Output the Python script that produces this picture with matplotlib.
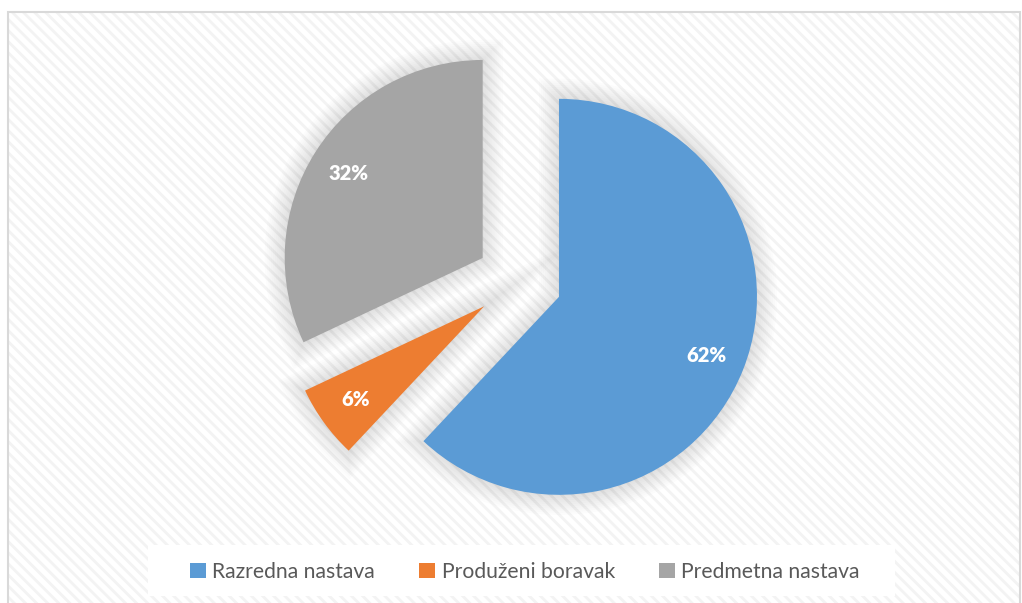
import matplotlib
matplotlib.use("Agg")
import matplotlib.pyplot as plt
from matplotlib.patches import Rectangle, Wedge

plt.rcParams['font.family'] = ['Lato', 'DejaVu Sans']
plt.rcParams['hatch.linewidth'] = 2.0

# data
labels = ['Razredna nastava', 'Produženi boravak', 'Predmetna nastava']
shares = [62, 6, 32]
colors = ['#5b9bd5', '#ed7d31', '#a5a5a5']

W, H = 1022, 603
fig = plt.figure(figsize=(W / 100, H / 100), dpi=100)
fig.patch.set_facecolor('white')

# striped chart area with light border
bg = Rectangle((8 / W, 0), (1020 - 8) / W, 1 - 12 / H, transform=fig.transFigure,
               facecolor='white', edgecolor='#f3f3f3', hatch='\\\\\\', linewidth=0, zorder=-2)
fig.patches.append(bg)
frame = Rectangle((8 / W, -0.01), (1020 - 8) / W, 1.01 - 12 / H, transform=fig.transFigure,
                  facecolor='none', edgecolor='#d9d9d9', linewidth=1.5, zorder=-1)
fig.patches.append(frame)

ax = fig.add_axes([0, 0, 1, 1])
ax.set_facecolor('none')
cx, cy = 519, H - 281
wedges, texts, autotexts = ax.pie(
    shares, colors=colors, startangle=90, counterclock=False,
    center=(cx, cy), radius=198, explode=[43, 43, 43],
    autopct='%1.0f%%', pctdistance=0.8,
    textprops=dict(color='white', fontsize=14.5, fontweight='heavy'))

# soft shadow around slices
for w in wedges:
    for lw in range(2, 30, 3):
        ax.add_patch(Wedge(w.center, w.r, w.theta1, w.theta2, facecolor='none',
                           edgecolor='black', alpha=0.012, linewidth=lw, zorder=0.5))

ax.set_xlim(0, W)
ax.set_ylim(0, H)
ax.set_aspect('equal')
ax.axis('off')

# legend box
fig.patches.append(Rectangle((148 / W, 1 - 596 / H), (895 - 148) / W, 51 / H,
                             transform=fig.transFigure, facecolor='white',
                             edgecolor='none', zorder=2))
leg = fig.legend(wedges, labels, loc='center', bbox_to_anchor=(525 / W, 1 - 572 / H),
                 ncol=3, frameon=False, fontsize=15.2, handlelength=0.75,
                 handleheight=0.75, handletextpad=0.3, columnspacing=2.1)
for t in leg.get_texts():
    t.set_color('#595959')
leg.set_zorder(3)

fig.savefig('out.png', dpi=100)
